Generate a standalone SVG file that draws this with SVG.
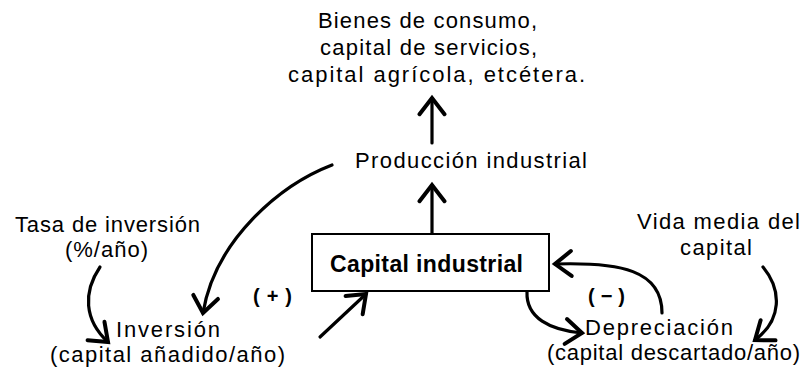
<svg xmlns="http://www.w3.org/2000/svg" width="803" height="373" viewBox="0 0 803 373">
  <style>
    text { font-family: "Liberation Sans", Arial, sans-serif; font-size: 22px; fill: #000; }
    .bold { font-weight: bold; font-size: 23px; }
    .sign { font-weight: bold; font-size: 20px; }
    .conn { fill: none; stroke: #000; stroke-width: 3.2; stroke-linecap: round; stroke-linejoin: round; }
    .box { fill: #fff; stroke: #000; stroke-width: 2; }
  </style>
  <defs>
    <marker id="arr" markerUnits="userSpaceOnUse" markerWidth="30" markerHeight="30" viewBox="-16 -12 20 24" refX="0" refY="0" orient="auto">
      <path d="M-13,-10 L0,0 L-13,10" fill="none" stroke="#000" stroke-width="3.2" stroke-linecap="round" stroke-linejoin="miter"/>
    </marker>
  </defs>
  <rect width="803" height="373" fill="#fff"/>

  <g id="bienes">
    <text x="318" y="28" textLength="219" lengthAdjust="spacing">Bienes de consumo,</text>
    <text x="320" y="55" textLength="217" lengthAdjust="spacing">capital de servicios,</text>
    <text x="288" y="82" textLength="297" lengthAdjust="spacing">capital agrícola, etcétera.</text>
  </g>
  <g id="produccion">
    <text x="355" y="168" textLength="232" lengthAdjust="spacing">Producción industrial</text>
  </g>
  <g id="capital">
    <rect class="box" x="312" y="234" width="237" height="57"/>
    <text class="bold" x="330" y="272" textLength="193" lengthAdjust="spacing">Capital industrial</text>
  </g>
  <g id="tasa">
    <text x="15" y="232" textLength="185" lengthAdjust="spacing">Tasa de inversión</text>
    <text x="65" y="257" textLength="83" lengthAdjust="spacing">(%/año)</text>
  </g>
  <g id="inversion">
    <text x="116" y="337" textLength="104" lengthAdjust="spacing">Inversión</text>
    <text x="50" y="362" textLength="235" lengthAdjust="spacing">(capital añadido/año)</text>
  </g>
  <g id="depreciacion">
    <text x="585" y="335" textLength="148" lengthAdjust="spacing">Depreciación</text>
    <text x="547" y="360" textLength="253" lengthAdjust="spacing">(capital descartado/año)</text>
  </g>
  <g id="vida">
    <text x="637" y="229" textLength="163" lengthAdjust="spacing">Vida media del</text>
    <text x="680" y="255" textLength="72" lengthAdjust="spacing">capital</text>
  </g>
  <g id="signos">
    <text class="sign" x="253" y="303" textLength="39" lengthAdjust="spacing">(+)</text>
    <text class="sign" x="588" y="303" textLength="37" lengthAdjust="spacing">(−)</text>
  </g>

  <g id="connectors">
    <path class="conn" d="M432,143 L432,98" marker-end="url(#arr)"/>
    <path class="conn" d="M432,233 L432,185" marker-end="url(#arr)"/>
    <path class="conn" d="M332,165 C280,185 215,240 203,313" marker-end="url(#arr)"/>
    <path class="conn" d="M100,267 C83,292 84,320 108,342" marker-end="url(#arr)"/>
    <path class="conn" d="M320,337 L366,294" marker-end="url(#arr)"/>
    <path class="conn" d="M527,292 C526,318 550,330 582,333" marker-end="url(#arr)"/>
    <path class="conn" d="M662,313 C662,270 620,262 555,264" marker-end="url(#arr)"/>
    <path class="conn" d="M763,267 C782,290 782,320 755,340" marker-end="url(#arr)"/>
  </g>
</svg>
